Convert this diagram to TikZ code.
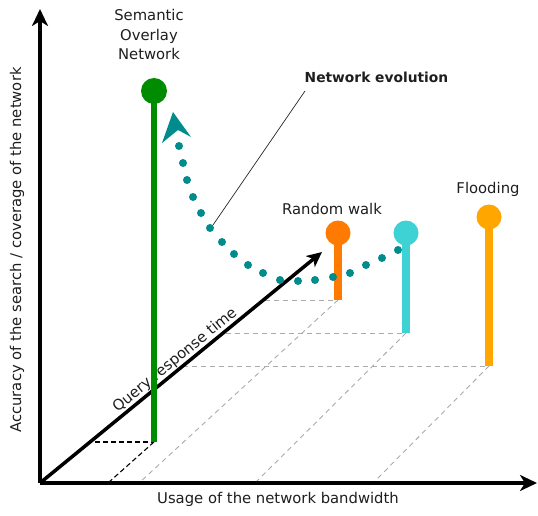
\documentclass[tikz,border=0pt]{standalone}
\usepackage{fontspec}
\setmainfont{DejaVu Sans}
\usetikzlibrary{arrows.meta}
\definecolor{sonGreen}{RGB}{0,140,0}
\definecolor{rwOrange}{RGB}{255,122,0}
\definecolor{midCyan}{RGB}{62,210,212}
\definecolor{floodOrange}{RGB}{255,166,0}
\definecolor{evoTeal}{RGB}{0,140,140}
\definecolor{guideGray}{RGB}{170,170,170}
\definecolor{txt}{RGB}{30,30,30}
\begin{document}
\begin{tikzpicture}[x=1pt,y=-1pt,
  lbl/.style={text=txt,font=\fontsize{14.8}{19.5}\selectfont,inner sep=0pt},
  axis/.style={line width=4pt,-{Stealth[length=17pt,width=16pt,inset=5pt]}},
  guide/.style={guideGray,line width=0.9pt,dash pattern=on 5pt off 4pt},
  guideblack/.style={black,line width=1.1pt,dash pattern=on 5pt off 3pt},
  stem/.style={line width=8pt},
  knob/.style={circle,inner sep=0pt,minimum size=25pt},
  evodot/.style={evoTeal}]
\useasboundingbox (0,0) rectangle (538,516);
% axis points
\coordinate (O) at (40,483);
\coordinate (ytip) at (40,9);
\coordinate (xtip) at (537,483);
\coordinate (ztip) at (322,252);
% base points of the stems
\coordinate (gb) at (154,442);
\coordinate (ob) at (338,300);
\coordinate (cb) at (406,333);
\coordinate (fb) at (489,366);
% guide starts
\coordinate (gh) at (95,442);
\coordinate (gx) at (108,483);
\coordinate (oh) at (265,300);
\coordinate (ox) at (139,483);
\coordinate (ch) at (226,333);
\coordinate (cx) at (255,483);
\coordinate (fh) at (183,366);
\coordinate (fx) at (373,483);
% guides
\draw[guide] (oh) -- (ob);
\draw[guide] (ob) -- (ox);
\draw[guide] (ch) -- (cb);
\draw[guide] (cb) -- (cx);
\draw[guide] (fh) -- (fb);
\draw[guide] (fb) -- (fx);
\draw[guideblack] (gh) -- (gb);
\draw[guideblack] (gb) -- (gx);
% axes
\draw[axis] (O) -- (ytip);
\draw[axis] (O) -- (xtip);
\draw[line width=3.5pt,-{Stealth[length=15pt,width=14pt,inset=4pt]}] (O) -- (ztip)
  node[lbl,pos=0.5,sloped,anchor=south,inner sep=0.5pt] (qrt) {Query response time};
% stems and knobs
\node[knob,fill=sonGreen,minimum size=26pt] (son) at (154,91) {};
\node[knob,fill=rwOrange] (rw) at (338,233) {};
\node[knob,fill=midCyan] (mc) at (406,233) {};
\node[knob,fill=floodOrange] (fl) at (489,217) {};
\draw[line width=5.5pt,sonGreen] (son.center) -- (gb);
\draw[stem,rwOrange] (rw.center) -- (ob);
\draw[stem,midCyan] (mc.center) -- (cb);
\draw[stem,floodOrange] (fl.center) -- (fb);
% network evolution dotted curve
\foreach \p [count=\i] in {(179,146),(183,163),(187,180),(193,197),(201,213),(210,228),(222,242),(234,254),(248,265),(263,273),(280,280),(298,281),(315,280),(333,277),(350,273),(366,265),(382,258),(398,250)}
  \fill[evodot] \p circle (4pt) coordinate (d\i);
\coordinate (at) at (173,112);
\coordinate (ar) at (191,137);
\coordinate (an) at (178,130);
\coordinate (al) at (162,143);
\fill[evoTeal] (at) -- (ar) -- (an) -- (al) -- cycle;
% labels
\node[lbl,font=\bfseries\fontsize{13.8}{16}\selectfont] (ne) at (376.5,77) {Network evolution};
\coordinate (nep) at (305,91);
\draw[line width=0.7pt,black!85] (d6) ++(3,-3) coordinate (d6e) -- (nep);
\node[lbl,align=center] (sonl) at (149,34.5) {Semantic\\Overlay\\Network};
\node[lbl] (rwl) at (332,209) {Random walk};
\node[lbl] (fll) at (488,189) {Flooding};
\node[lbl] (xl) at (278,499) {Usage of the network bandwidth};
\node[lbl,rotate=90] (yl) at (17,250) {Accuracy of the search / coverage of the network};
\end{tikzpicture}
\end{document}
